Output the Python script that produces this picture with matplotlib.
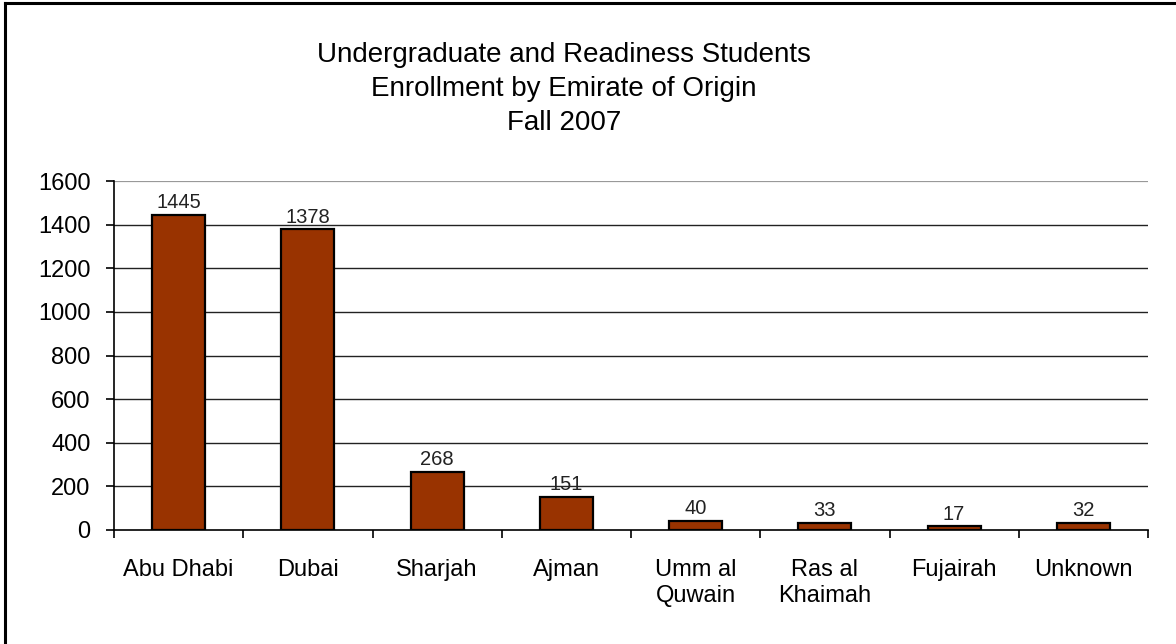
import matplotlib
matplotlib.use("Agg")
import matplotlib.pyplot as plt

categories = ["Abu Dhabi", "Dubai", "Sharjah", "Ajman", "Umm al\nQuwain",
              "Ras al\nKhaimah", "Fujairah", "Unknown"]
values = [1445, 1378, 268, 151, 40, 33, 17, 32]
yticks = [0, 200, 400, 600, 800, 1000, 1200, 1400, 1600]
title_lines = ["Undergraduate and Readiness Students",
               "Enrollment by Emirate of Origin", "Fall 2007"]

plt.rcParams['font.family'] = ['Liberation Sans', 'DejaVu Sans']

W, H = 1176, 644
fig = plt.figure(figsize=(W / 100, H / 100), dpi=100)
fig.patch.set_facecolor('white')

# frame (top and left visible, rest cropped)
fig.add_artist(plt.Line2D([4.5 / W, 4.5 / W], [0, 1 - 3 / H], color='black', lw=2.2,
                          transform=fig.transFigure))
fig.add_artist(plt.Line2D([4.5 / W, 1], [1 - 3 / H, 1 - 3 / H], color='black', lw=2.2,
                          transform=fig.transFigure))

left, right, top, bottom = 114, 1148, 181, 530
ax = fig.add_axes([left / W, 1 - bottom / H, (right - left) / W, (bottom - top) / H])

x = list(range(len(categories)))
ax.bar(x, values, width=0.41, color='#993300', edgecolor='black', linewidth=1.6,
       zorder=3)

ax.set_ylim(0, 1600)
ax.set_xlim(-0.5, -0.5 + (right - left) / 130.7)
ax.set_yticks(yticks)
ax.set_yticklabels([str(v) for v in yticks], fontsize=17)
ax.tick_params(axis='y', direction='out', length=6, width=1.2, pad=11, colors='black')

ax.set_xticks(x)
ax.set_xticklabels(categories, fontsize=17, linespacing=1.2)
ax.tick_params(axis='x', which='major', length=0, pad=21)
ax.set_xticks([i + 0.5 for i in range(-1, len(categories))], minor=True)
ax.tick_params(axis='x', which='minor', direction='out', length=6, width=1.2)

ax.yaxis.grid(True, color='#222222', lw=1.0, zorder=0)
ax.set_axisbelow(True)
for s in ['top', 'right']:
    ax.spines[s].set_visible(False)
ax.spines['left'].set_linewidth(1.2)
ax.spines['bottom'].set_linewidth(1.2)
ax.spines['left'].set_zorder(4)
ax.spines['bottom'].set_zorder(4)
gl = ax.get_ygridlines()
gl[-1].set_color('#999999')
gl[-1].set_linewidth(1.6)
gl[0].set_visible(False)

for xi, v in zip(x, values):
    ax.annotate(str(v), (xi, v), xytext=(0, 2), textcoords='offset points',
                ha='center', va='bottom', fontsize=14.5, color='#222222')

fig.text(564 / W, 1 - 89 / H, "\n".join(title_lines), ha='center', va='center',
         fontsize=20, linespacing=1.4)

fig.savefig("out.png", dpi=100, facecolor='white')
